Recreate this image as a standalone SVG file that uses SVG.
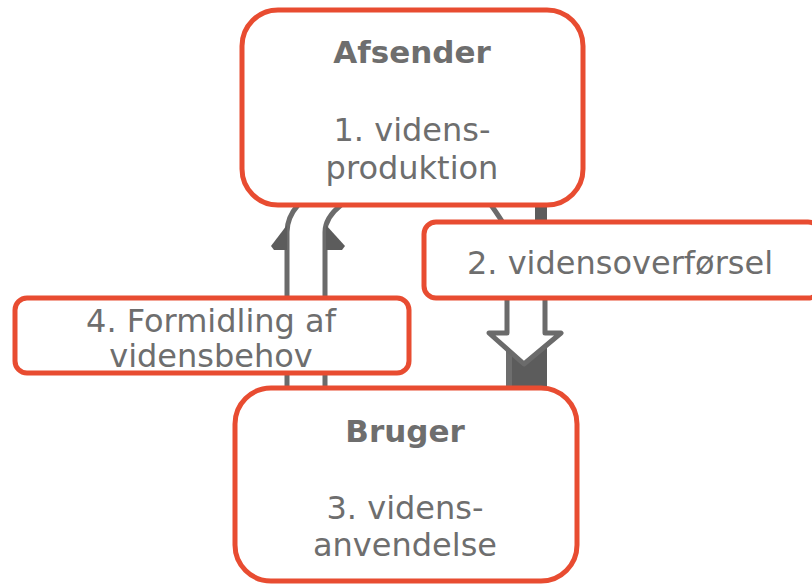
<svg xmlns="http://www.w3.org/2000/svg" width="812" height="584" viewBox="0 0 812 584">
<style>
.box{fill:#fff;stroke:#e84c31;stroke-width:5}
.t{font-family:"DejaVu Sans","Liberation Sans",sans-serif;font-size:32px;fill:#6e6e6e;text-anchor:middle}
.b{font-weight:bold;font-size:31px}
.ln{fill:none;stroke:#6b6b6b;stroke-width:5}
.dk{fill:#5c5c5c}
</style>
<rect width="812" height="584" fill="#fff"/>
<g id="connectors">
  <g id="arrow-up">
    <path class="ln" d="M287,392 L287,232 C287,222 291,213 298,205"/>
    <path class="ln" d="M325,392 L325,232 C325,222 331,213 341,205"/>
    <polygon class="dk" points="287,225 271,246 274,250 287,250"/>
    <polygon class="dk" points="326,225 345,246 342,250 326,250"/>
  </g>
  <g id="arrow-down">
    <path class="ln" d="M491,205 C496,212 501,219 506,228"/>
    <rect class="dk" x="535" y="204" width="12" height="24"/>
    <polygon class="dk" points="506,345 524,364 547,345 547,392 506,392"/>
    <rect x="506" y="352" width="6" height="40" fill="#6e6e6e"/>
    <path class="ln" d="M507,296 L507,333 L489,333 L524,364 L561,333 L545,333 L545,296" style="fill:#fff" stroke-linejoin="round"/>
  </g>
</g>
<g id="afsender">
  <rect class="box" x="242" y="10" width="341" height="195" rx="36"/>
  <text class="t b" x="412" y="63">Afsender</text>
  <text class="t" x="412" y="141">1. videns-</text>
  <text class="t" x="412" y="179">produktion</text>
</g>
<g id="bruger">
  <rect class="box" x="235" y="388" width="342" height="193" rx="36"/>
  <text class="t b" x="405" y="442">Bruger</text>
  <text class="t" x="405" y="519">3. videns-</text>
  <text class="t" x="405" y="556">anvendelse</text>
</g>
<g id="label-2">
  <rect class="box" x="424" y="222" width="396" height="76" rx="12"/>
  <text class="t" x="620" y="274">2. vidensoverførsel</text>
</g>
<g id="label-4">
  <rect class="box" x="15" y="298" width="394" height="75" rx="12"/>
  <text class="t" x="211" y="332">4. Formidling af</text>
  <text class="t" x="211" y="367">vidensbehov</text>
</g>
</svg>
